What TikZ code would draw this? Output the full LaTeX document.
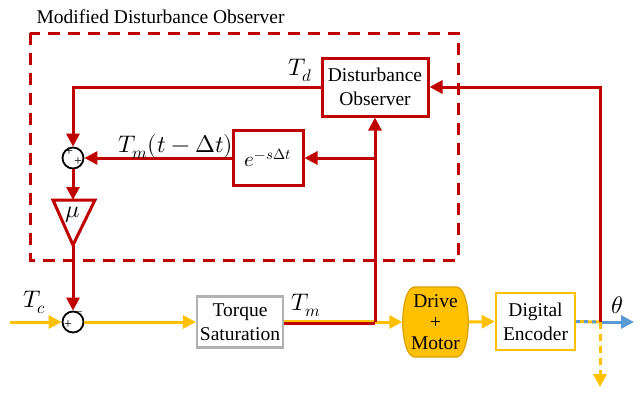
\documentclass[tikz,border=0pt]{standalone}
\usepackage{fontspec}
\usepackage{unicode-math}
\setmainfont{Liberation Serif}
\setmathfont{latinmodern-math.otf}
\usetikzlibrary{arrows.meta,shapes.geometric}
\definecolor{dred}{HTML}{C00000}
\definecolor{amber}{HTML}{FFC000}
\definecolor{amberdk}{HTML}{D9A000}
\definecolor{sblue}{HTML}{5B9BD5}
\begin{document}
\begin{tikzpicture}[x=1pt,y=-1pt, font=\rmfamily\fontsize{19.5}{24}\selectfont,
  redln/.style={draw=dred,line width=3pt},
  yelln/.style={draw=amber,line width=3pt},
  blueln/.style={draw=sblue,line width=3pt},
  tip/.style={-{Triangle[length=13pt,width=13pt]}},
  rbox/.style={draw=dred,line width=3pt,fill=white,align=center,inner sep=2pt},
  sumc/.style={circle,draw=black,line width=1.8pt,minimum size=21pt,inner sep=0pt,fill=white},
  sgn/.style={font=\fontsize{14}{14}\selectfont,inner sep=0pt},
  mlab/.style={font=\fontsize{24}{26}\selectfont,inner sep=1pt}]
\useasboundingbox (0,0) rectangle (642,392);
% dashed frame
\draw[dred,line width=3pt,dash pattern=on 12pt off 8pt] (30,33) rectangle (458,260);
\node[anchor=west] (title) at (33,17) {Modified Disturbance Observer};
% nodes
\node[rbox,minimum width=106pt,minimum height=58pt] (dob) at (375,87) {Disturbance\\Observer};
\node[rbox,minimum width=70pt,minimum height=55pt,font=\fontsize{21}{24}\selectfont] (del) at (268,158) {$e^{-s\Delta t}$};
\node[sumc] (s1) at (73,158) {};
\node[sumc] (s2) at (73,322) {};
\node[draw=gray!60,line width=2.2pt,fill=white,minimum width=86pt,minimum height=51pt,align=center,inner sep=1pt] (sat) at (240,322) {Torque\\Saturation};
\draw[draw=amberdk,line width=1.2pt,fill=amber] (414,287) -- (457,287) .. controls (472,290) and (472,354) .. (457,357) -- (414,357) .. controls (399,354) and (399,290) .. (414,287) -- cycle;
\node[minimum width=66pt,minimum height=70pt,align=center,inner sep=1pt,font=\rmfamily\fontsize{19.5}{21}\selectfont] (drv) at (435.5,322) {Drive\\+\\Motor};
\node[draw=amber,line width=2.4pt,fill=white,minimum width=79pt,minimum height=57pt,align=center,inner sep=1pt] (enc) at (535.5,321.5) {Digital\\Encoder};
% coordinates
\coordinate (j1) at (dob.south |- sat.east);
\coordinate (j2) at (dob.south |- del.east);
\coordinate (r1) at (600,322);
\coordinate (r2) at (r1 |- dob.east);
\coordinate (tl) at (s1 |- dob.west);
\coordinate (cin) at (10,322);
\coordinate (th) at (634,322);
\coordinate (dn) at (600,387);
\coordinate (ta) at (53,200);
\coordinate (tb) at (95,200);
\coordinate (tc) at (73,245);
\coordinate (ttop) at (73,200);
% gain triangle
\draw[redln,line join=miter] (ta) -- (tb) -- (tc) -- cycle;
\node[mlab] (mu) at (73,215) {$\mu$};
% signs
\node[sgn] (p1) at (69,152) {+};
\node[sgn] (p2) at (78,162) {+};
\node[sgn] (p3) at (68,325) {+};
\node[sgn] (m1) at (78,314) {$-$};
% connectors
\draw[redln,tip] (dob.west) -- (tl) -- (s1.north);
\draw[redln,tip] (del.west) -- (s1.east);
\draw[redln,tip] (s1.south) -- (ttop);
\draw[redln,tip] (tc) -- (s2.north);
\draw[yelln,tip] (cin) -- (s2.west);
\draw[yelln,tip] (s2.east) -- (sat.west);
\draw[yelln] ([yshift=1pt]sat.east) -- ([yshift=1pt]j1);
\draw[redln] ([yshift=-1pt]sat.east) -- ([yshift=-1pt]j1);
\draw[yelln,tip] (j1) -- (drv.west);
\draw[redln,tip] (j1) -- (dob.south);
\draw[redln,tip] (j2) -- (del.east);
\draw[yelln,tip] (drv.east) -- (enc.west);
\draw[yelln] (enc.east) -- (r1);
\draw[blueln,dash pattern=on 4pt off 4pt] (enc.east) -- (r1);
\draw[blueln,tip] (r1) -- (th);
\draw[redln,tip] (r1) -- (r2) -- (dob.east);
\draw[yelln,dash pattern=on 7pt off 5pt,tip] (r1) -- (dn);
% labels
\node[mlab] (ltd) at (300,70) {$T_d$};
\node[mlab] (ltm) at (176,147) {$T_m(t-\Delta t)$};
\node[mlab] (ltc) at (35,302) {$T_c$};
\node[mlab] (ltm2) at (306,305) {$T_m$};
\node[mlab] (lth) at (617,305) {$\theta$};
\end{tikzpicture}
\end{document}
